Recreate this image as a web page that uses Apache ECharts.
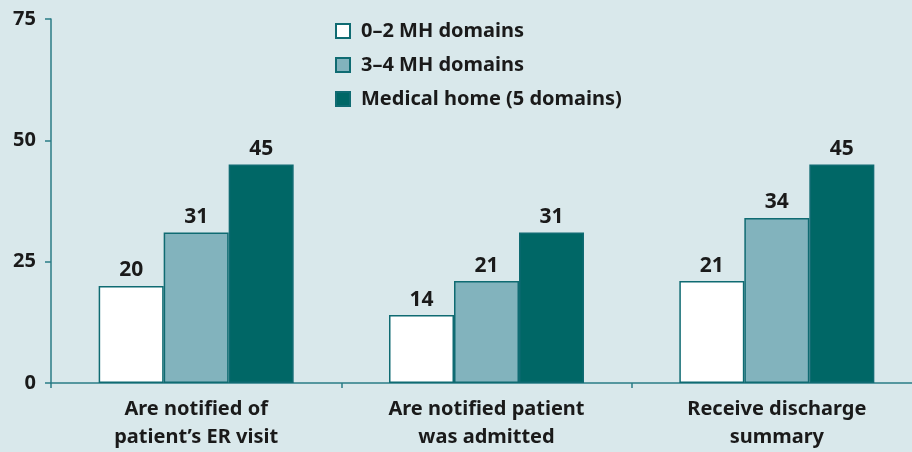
<!DOCTYPE html>
<html>
<head>
<meta charset="utf-8">
<script src="https://cdn.jsdelivr.net/npm/echarts@6/dist/echarts.min.js"></script>
<style>
    html, body { margin: 0; padding: 0; background: #d9e8eb; }
    #chart { width: 912px; height: 452px; }
</style>
</head>
<body>
<div id="chart"></div>
<script>
const categories = ["Are notified of\npatient’s ER visit", "Are notified patient\nwas admitted", "Receive discharge\nsummary"];
const seriesNames = ["0–2 MH domains", "3–4 MH domains", "Medical home (5 domains)"];
const lowDomains = [20, 14, 21];
const midDomains = [31, 21, 34];
const medicalHome = [45, 31, 45];
const yTicks = [0, 25, 50, 75];

const FONT = "'Noto Sans', 'DejaVu Sans', sans-serif";
const BORDER = "#0f6b72";
const colors = ["#ffffff", "#82b3bd", "#006766"];

function makeSeries(name, data, color) {
    return {
        name: name,
        type: "bar",
        data: data,
        barWidth: 65,
        barGap: "0%",
        itemStyle: { color: color, borderColor: BORDER, borderWidth: 1.5 },
        label: {
            show: true,
            position: "top",
            distance: 5,
            color: "#1a1a1a",
            fontFamily: FONT,
            fontWeight: "bold",
            fontSize: 21,
        },
    };
}

const chart = echarts.init(document.getElementById("chart"));
chart.setOption({
    backgroundColor: "#d9e8eb",
    animation: false,
    textStyle: { fontFamily: FONT },
    legend: {
        orient: "vertical",
        left: 330,
        top: 16,
        itemWidth: 14,
        itemHeight: 14,
        itemGap: 14,
        icon: "rect",
        textStyle: { color: "#1a1a1a", fontFamily: FONT, fontWeight: "bold", fontSize: 20, padding: [0, 0, 0, 6] },
        data: seriesNames,
    },
    grid: { left: 51, top: 19, width: 871, bottom: 69, containLabel: false, outerBoundsMode: "none" },
    xAxis: {
        type: "category",
        data: categories,
        axisLine: { lineStyle: { color: "#2a7c86", width: 1.5 } },
        axisTick: { show: true, length: 5, lineStyle: { color: "#2a7c86", width: 1.5 } },
        axisLabel: {
            color: "#1a1a1a",
            fontFamily: FONT,
            fontWeight: "bold",
            fontSize: 20,
            lineHeight: 28,
            margin: 12,
        },
    },
    yAxis: {
        type: "value",
        min: yTicks[0],
        max: yTicks[yTicks.length - 1],
        interval: yTicks[1] - yTicks[0],
        splitLine: { show: false },
        axisLine: { show: true, lineStyle: { color: "#2a7c86", width: 1.5 } },
        axisTick: { show: true, length: 6, lineStyle: { color: "#2a7c86", width: 1.5 } },
        axisLabel: {
            color: "#1a1a1a",
            fontFamily: FONT,
            fontWeight: "bold",
            fontSize: 20,
            margin: 15,
        },
    },
    series: [
        makeSeries(seriesNames[0], lowDomains, colors[0]),
        makeSeries(seriesNames[1], midDomains, colors[1]),
        makeSeries(seriesNames[2], medicalHome, colors[2]),
    ],
});
</script>
</body>
</html>
